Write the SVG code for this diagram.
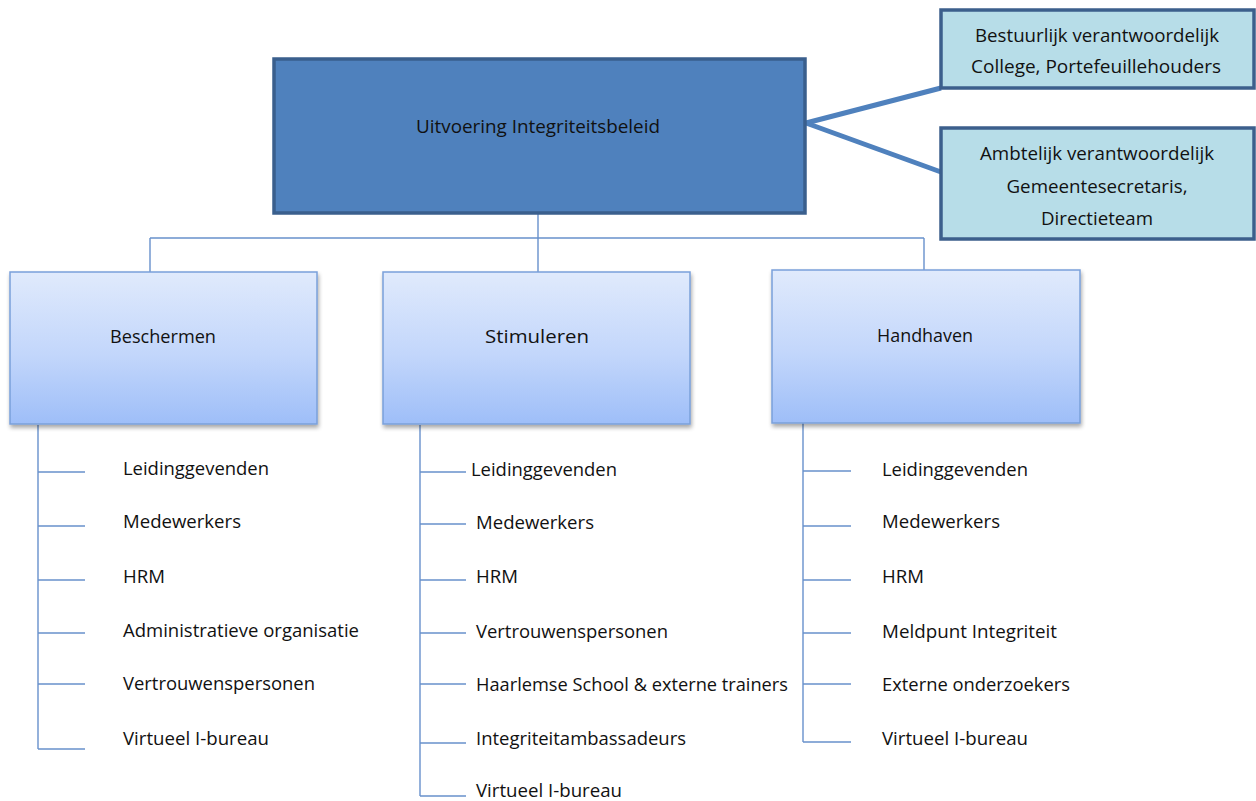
<svg xmlns="http://www.w3.org/2000/svg" width="1256" height="801" viewBox="0 0 1256 801">
  <defs>
    <linearGradient id="pillarFill" x1="0" y1="0" x2="0" y2="1">
      <stop offset="0" stop-color="#e0eafc"/>
      <stop offset="0.55" stop-color="#c2d6fb"/>
      <stop offset="1" stop-color="#9ebef8"/>
    </linearGradient>
    <filter id="shadow" x="-5%" y="-5%" width="115%" height="120%">
      <feGaussianBlur in="SourceAlpha" stdDeviation="2.2"/>
      <feOffset dx="1" dy="3" result="blur"/>
      <feComponentTransfer><feFuncA type="linear" slope="0.35"/></feComponentTransfer>
      <feMerge><feMergeNode/><feMergeNode in="SourceGraphic"/></feMerge>
    </filter>
  </defs>
  <style>
    text { font-family: "Open Sans", "Noto Sans", "Liberation Sans", sans-serif; font-size: 18.5px; fill: #111111; }
    .mid { text-anchor: middle; }
    .main { fill: #4f81bd; stroke: #3a5f8d; stroke-width: 3.5; }
    .owner { fill: #b7dde8; stroke: #3c5f8c; stroke-width: 3.5; }
    .pillar { fill: url(#pillarFill); stroke: #7aa0da; stroke-width: 1.5; filter: url(#shadow); }
    .thin { fill: none; stroke: #6891cc; stroke-width: 1.4; }
    .thick { fill: none; stroke: #4f81bd; stroke-width: 5; }
  </style>

  <rect width="1256" height="801" fill="#ffffff"/>

  <!-- connectors -->
  <g id="connectors">
    <path class="thick" d="M806 123 L941 88"/>
    <path class="thick" d="M806 123 L941 172"/>
    <path class="thin" d="M538 214 V272 M150 238 H924 M150 238 V272 M924 238 V270"/>
    <!-- Beschermen list -->
    <path class="thin" d="M38 425 V749 M38 472 H85 M38 526 H85 M38 580 H85 M38 633 H85 M38 684 H85 M38 749 H85"/>
    <!-- Stimuleren list -->
    <path class="thin" d="M420 425 V796 M420 472 H466 M420 524 H466 M420 580 H466 M420 633 H466 M420 684 H466 M420 743 H466 M420 796 H466"/>
    <!-- Handhaven list -->
    <path class="thin" d="M803 423 V742 M803 471 H851 M803 526 H851 M803 580 H851 M803 633 H851 M803 684 H851 M803 742 H851"/>
  </g>

  <g id="main">
    <rect class="main" x="274" y="59" width="531" height="154"/>
    <text class="mid" x="538" y="133" textLength="244" lengthAdjust="spacingAndGlyphs">Uitvoering Integriteitsbeleid</text>
  </g>

  <g id="bestuurlijk">
    <rect class="owner" x="941" y="10" width="313" height="78"/>
    <text class="mid" x="1097" y="42" textLength="244" lengthAdjust="spacingAndGlyphs">Bestuurlijk verantwoordelijk</text>
    <text class="mid" x="1096" y="73" textLength="250" lengthAdjust="spacingAndGlyphs">College, Portefeuillehouders</text>
  </g>

  <g id="ambtelijk">
    <rect class="owner" x="941" y="128" width="313" height="111"/>
    <text class="mid" x="1097" y="160" textLength="234" lengthAdjust="spacingAndGlyphs">Ambtelijk verantwoordelijk</text>
    <text class="mid" x="1097" y="193" textLength="181" lengthAdjust="spacingAndGlyphs">Gemeentesecretaris,</text>
    <text class="mid" x="1097" y="225" textLength="112" lengthAdjust="spacingAndGlyphs">Directieteam</text>
  </g>

  <g id="beschermen">
    <rect class="pillar" x="10" y="272" width="307" height="152"/>
    <text class="mid" x="163" y="343" textLength="106" lengthAdjust="spacingAndGlyphs">Beschermen</text>
  </g>

  <g id="stimuleren">
    <rect class="pillar" x="383" y="272" width="307" height="152"/>
    <text class="mid" x="537" y="343" textLength="104" lengthAdjust="spacingAndGlyphs">Stimuleren</text>
  </g>

  <g id="handhaven">
    <rect class="pillar" x="772" y="270" width="308" height="153"/>
    <text class="mid" x="925" y="342" textLength="96" lengthAdjust="spacingAndGlyphs">Handhaven</text>
  </g>

  <g id="beschermen-items">
    <text x="123" y="475" textLength="146" lengthAdjust="spacingAndGlyphs">Leidinggevenden</text>
    <text x="123" y="528" textLength="118" lengthAdjust="spacingAndGlyphs">Medewerkers</text>
    <text x="123" y="583" textLength="42" lengthAdjust="spacingAndGlyphs">HRM</text>
    <text x="123" y="637" textLength="236" lengthAdjust="spacingAndGlyphs">Administratieve organisatie</text>
    <text x="123" y="690" textLength="192" lengthAdjust="spacingAndGlyphs">Vertrouwenspersonen</text>
    <text x="123" y="745" textLength="146" lengthAdjust="spacingAndGlyphs">Virtueel I-bureau</text>
  </g>

  <g id="stimuleren-items">
    <text x="471" y="476" textLength="146" lengthAdjust="spacingAndGlyphs">Leidinggevenden</text>
    <text x="476" y="529" textLength="118" lengthAdjust="spacingAndGlyphs">Medewerkers</text>
    <text x="476" y="583" textLength="42" lengthAdjust="spacingAndGlyphs">HRM</text>
    <text x="476" y="638" textLength="192" lengthAdjust="spacingAndGlyphs">Vertrouwenspersonen</text>
    <text x="476" y="691" textLength="312" lengthAdjust="spacingAndGlyphs">Haarlemse School &amp; externe trainers</text>
    <text x="476" y="745" textLength="210" lengthAdjust="spacingAndGlyphs">Integriteitambassadeurs</text>
    <text x="476" y="797" font-size="18" textLength="146" lengthAdjust="spacingAndGlyphs">Virtueel I-bureau</text>
  </g>

  <g id="handhaven-items">
    <text x="882" y="476" textLength="146" lengthAdjust="spacingAndGlyphs">Leidinggevenden</text>
    <text x="882" y="528" textLength="118" lengthAdjust="spacingAndGlyphs">Medewerkers</text>
    <text x="882" y="583" textLength="42" lengthAdjust="spacingAndGlyphs">HRM</text>
    <text x="882" y="638" textLength="175" lengthAdjust="spacingAndGlyphs">Meldpunt Integriteit</text>
    <text x="882" y="691" textLength="188" lengthAdjust="spacingAndGlyphs">Externe onderzoekers</text>
    <text x="882" y="745" textLength="146" lengthAdjust="spacingAndGlyphs">Virtueel I-bureau</text>
  </g>
</svg>
